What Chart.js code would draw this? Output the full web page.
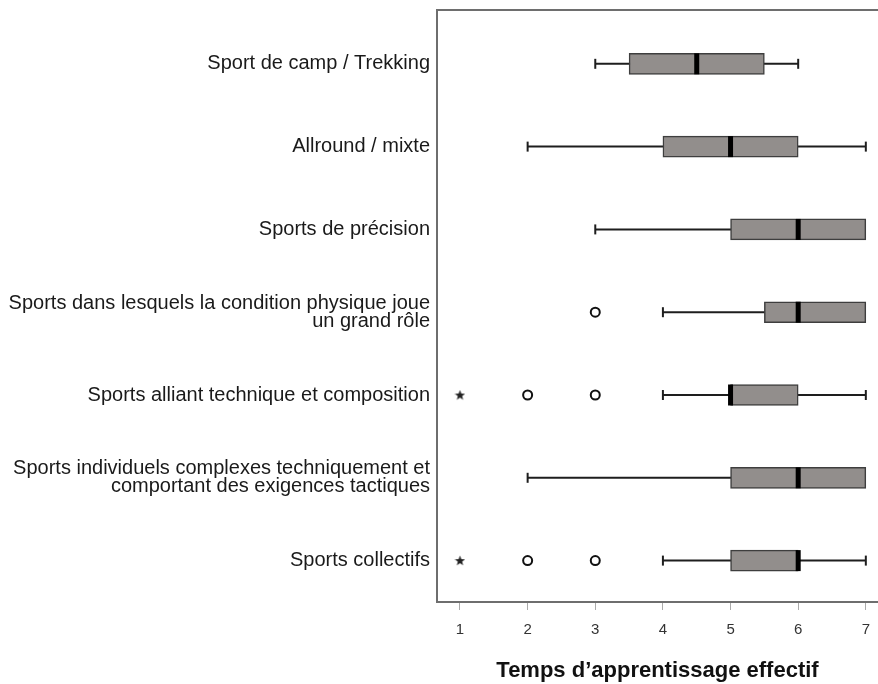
<!DOCTYPE html>
<html>
<head>
<meta charset="utf-8">
<title>Temps d'apprentissage effectif</title>
<script src="https://cdn.jsdelivr.net/npm/chart.js@4.4.1/dist/chart.umd.min.js"></script>
<style>
  html, body { margin: 0; padding: 0; background: #fff; overflow: hidden; }
  canvas { display: block; }
</style>
</head>
<body>
<canvas id="boxChart" width="878" height="684"></canvas>
<script>
// Boxplot values (top row = index 1)
const categories = [
    'Sport de camp / Trekking',
    'Allround / mixte',
    'Sports de précision',
    ['Sports dans lesquels la condition physique joue', 'un grand rôle'],
    'Sports alliant technique et composition',
    ['Sports individuels complexes techniquement et', 'comportant des exigences tactiques'],
    'Sports collectifs'
];
const whiskerLow  = [3,   2, 3, 4,   4, 2, 4];
const q1          = [3.5, 4, 5, 5.5, 5, 5, 5];
const median      = [4.5, 5, 6, 6,   5, 6, 6];
const q3          = [5.5, 6, 7, 7,   6, 7, 6];
const whiskerHigh = [6,   7, 7, 7,   7, 7, 7];
const outliers    = [[], [], [], [3], [2, 3], [], [2, 3]];
const extremes    = [[], [], [], [], [1], [], [1]];
const xTicks = [1, 2, 3, 4, 5, 6, 7];
const xTitle = 'Temps d’apprentissage effectif';

const FONT = "'Liberation Sans', Arial, sans-serif";
const rows = categories.map((_, i) => i + 1);

// small filled star for the extreme values
const star = document.createElement('canvas');
star.width = 11; star.height = 11;
(function () {
    const c = star.getContext('2d');
    c.fillStyle = '#222';
    c.beginPath();
    for (let k = 0; k < 10; k++) {
        const r = k % 2 === 0 ? 5.4 : 2.3;
        const a = -Math.PI / 2 + k * Math.PI / 5;
        const px = 5.5 + r * Math.cos(a), py = 5.8 + r * Math.sin(a);
        if (k === 0) c.moveTo(px, py); else c.lineTo(px, py);
    }
    c.closePath();
    c.fill();
})();

// no automatic label padding, the frame is placed by hand
function noPad(s) {
    s.paddingLeft = 0; s.paddingRight = 0;
    s.paddingTop = 0; s.paddingBottom = 0;
}

const datasets = [];

// whisker lines, one per row, drawn under the boxes
rows.forEach((r, i) => {
    datasets.push({
        type: 'line',
        data: [{ x: whiskerLow[i], y: r }, { x: whiskerHigh[i], y: r }],
        borderColor: '#1e1e1e',
        borderWidth: 2,
        pointRadius: 0,
        order: 5
    });
});

// whisker caps (none when the whisker has zero length)
const caps = [];
rows.forEach((r, i) => {
    if (whiskerLow[i] < q1[i]) caps.push({ x: whiskerLow[i], y: r });
    if (whiskerHigh[i] > q3[i]) caps.push({ x: whiskerHigh[i], y: r });
});
datasets.push({
    type: 'scatter',
    data: caps,
    pointStyle: 'line',
    rotation: 90,
    radius: 5,
    borderColor: '#1e1e1e',
    borderWidth: 2,
    order: 4
});

// boxes (q1 -> q3)
datasets.push({
    type: 'bar',
    indexAxis: 'y',
    data: rows.map((r, i) => ({ x: [q1[i], q3[i]], y: r })),
    backgroundColor: '#928e8c',
    borderColor: '#3e3e3e',
    borderWidth: 1.5,
    borderSkipped: false,
    barThickness: 21,
    order: 3
});

// medians
datasets.push({
    type: 'scatter',
    data: rows.map((r, i) => ({ x: median[i], y: r })),
    pointStyle: 'line',
    rotation: 90,
    radius: 10.5,
    borderColor: '#000',
    borderWidth: 5,
    order: 2
});

// outliers (circles)
datasets.push({
    type: 'scatter',
    data: rows.flatMap((r, i) => outliers[i].map(v => ({ x: v, y: r }))),
    pointStyle: 'circle',
    radius: 4.5,
    backgroundColor: '#fff',
    borderColor: '#111',
    borderWidth: 2,
    order: 1
});

// extremes (stars)
datasets.push({
    type: 'scatter',
    data: rows.flatMap((r, i) => extremes[i].map(v => ({ x: v, y: r }))),
    pointStyle: star,
    order: 1
});

new Chart(document.getElementById('boxChart'), {
    type: 'bar',
    data: { datasets },
    options: {
        responsive: false,
        animation: false,
        layout: { autoPadding: false, padding: { top: 10, right: 0, bottom: 0, left: 0 } },
        plugins: { legend: { display: false }, tooltip: { enabled: false } },
        scales: {
            x: {
                type: 'linear',
                position: 'bottom',
                offset: false,
                min: 0.66,
                max: 7.18,
                afterBuildTicks: s => { s.ticks = xTicks.map(v => ({ value: v })); },
                afterFit: s => { s.height = 82; noPad(s); },
                grid: { offset: false, drawOnChartArea: false, drawTicks: true, tickLength: 8, color: '#aaaaaa', lineWidth: 1 },
                border: { color: '#6e6e6e', width: 2 },
                ticks: { color: '#333', font: { family: FONT, size: 15 }, padding: 11 },
                title: {
                    display: true,
                    text: xTitle,
                    color: '#111',
                    font: { family: FONT, size: 22, weight: 'bold' },
                    padding: { top: 0, bottom: 0 }
                }
            },
            xTop: {
                type: 'linear',
                position: 'top',
                offset: false,
                min: 0.66,
                max: 7.18,
                afterFit: s => { s.height = 0; noPad(s); },
                grid: { display: false, drawTicks: false },
                border: { color: '#6e6e6e', width: 2 },
                ticks: { display: false }
            },
            y: {
                type: 'linear',
                reverse: true,
                offset: false,
                min: 0.35,
                max: 7.5,
                afterBuildTicks: s => { s.ticks = rows.map(v => ({ value: v })); },
                afterFit: s => { s.width = 437; noPad(s); },
                grid: { offset: false, display: false, drawTicks: false },
                border: { color: '#6e6e6e', width: 2 },
                ticks: {
                    color: '#1a1a1a',
                    padding: 7,
                    font: { family: FONT, size: 20, lineHeight: 0.9 },
                    callback: v => categories[v - 1]
                }
            }
        }
    }
});
</script>
</body>
</html>
